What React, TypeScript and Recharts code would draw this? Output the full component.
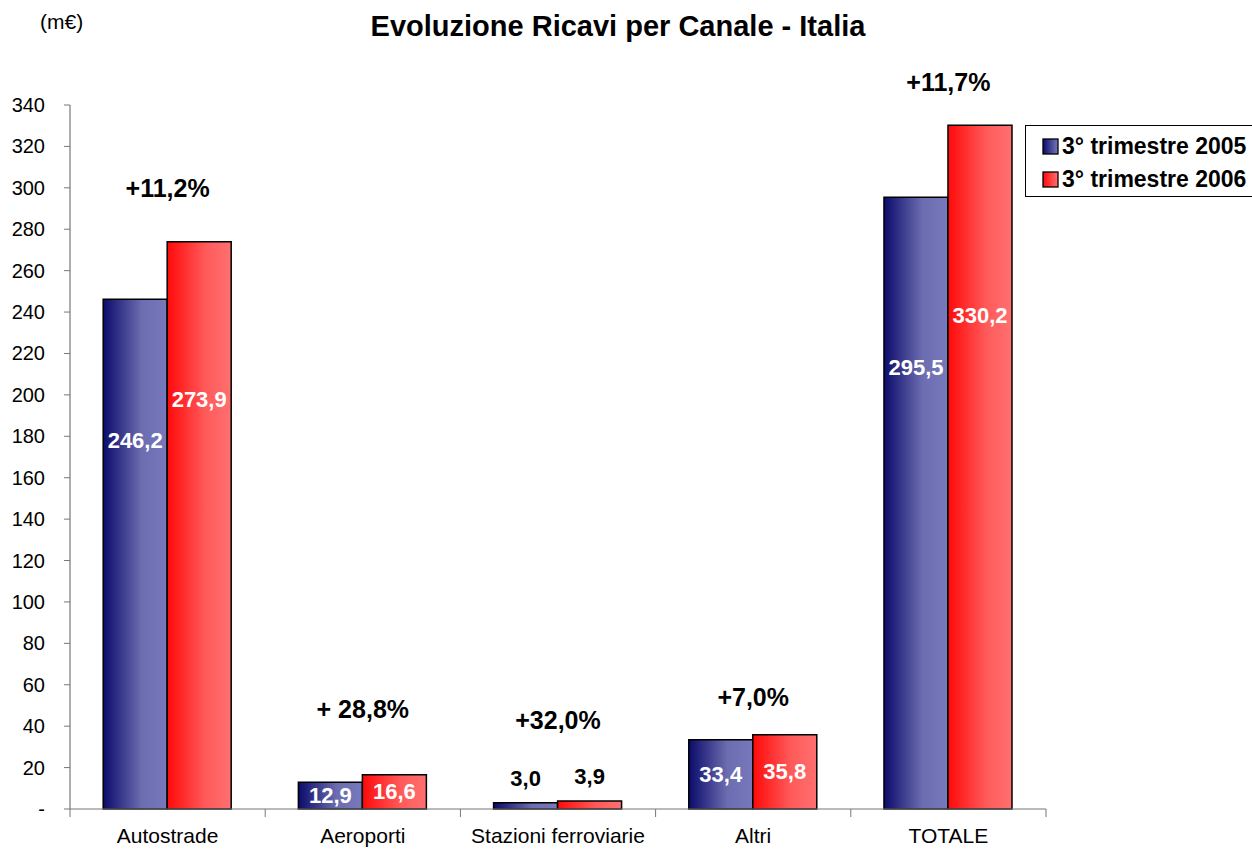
import React from 'react';
import { ComposedChart, Bar, XAxis, YAxis, LabelList, ReferenceDot } from 'recharts';

const categories = ['Autostrade', 'Aeroporti', 'Stazioni ferroviarie', 'Altri', 'TOTALE'];
const q3_2005 = [246.2, 12.9, 3.0, 33.4, 295.5];
const q3_2006 = [273.9, 16.6, 3.9, 35.8, 330.2];
const growthLabels = ['+11,2%', '+ 28,8%', '+32,0%', '+7,0%', '+11,7%'];
const growthLabelLevel = [300, 48, 43, 54, 351];
const yTicks = [0, 20, 40, 60, 80, 100, 120, 140, 160, 180, 200, 220, 240, 260, 280, 300, 320, 340];
const seriesNames = ['3° trimestre 2005', '3° trimestre 2006'];

const data = categories.map((c, i) => ({ name: c, a: q3_2005[i], b: q3_2006[i] }));

const FONT = '"Liberation Sans", Arial, Helvetica, sans-serif';
const AXIS = '#777';

const fmt = (v: number) => v.toFixed(1).replace('.', ',');

const ValueLabel = (props: any) => {
  const { x, y, width, height, value } = props;
  const cx = x + width / 2;
  const bottom = y + height;
  let ly: number;
  let fill = '#fff';
  if (value > 100) ly = bottom - 0.722 * height;
  else if (value > 10) ly = y + height / 2;
  else {
    ly = y - 24;
    fill = '#000';
  }
  return (
    <text x={cx} y={ly} textAnchor="middle" dominantBaseline="central" fill={fill}
      fontFamily={FONT} fontWeight="bold" fontSize={22}>
      {fmt(value)}
    </text>
  );
};

const XTick = (props: any) => {
  const { x, y, payload, index } = props;
  const half = payload && payload.offset ? payload.offset : 97.6;
  return (
    <g>
      <line x1={x - half} y1={y - 8} x2={x - half} y2={y} stroke={AXIS} strokeWidth={1} />
      {index === categories.length - 1 && (
        <line x1={x + half} y1={y - 8} x2={x + half} y2={y} stroke={AXIS} strokeWidth={1} />
      )}
      <text x={x} y={y + 26} textAnchor="middle" fontFamily={FONT} fontSize={21} fill="#000">
        {payload.value}
      </text>
    </g>
  );
};

const YTick = (props: any) => {
  const { x, y, payload } = props;
  return (
    <text x={x - 17} y={y} textAnchor="end" dominantBaseline="central" fontFamily={FONT} fontSize={20} fill="#000">
      {payload.value === 0 ? '-' : payload.value}
    </text>
  );
};

const LegendBox = () => (
  <div style={{ position: 'absolute', left: 1025, top: 125, border: '1px solid #000', borderRight: 'none', background: '#fff', width: 227, height: 72, boxSizing: 'border-box', padding: '4px 0 0 16px', fontFamily: FONT }}>
    {seriesNames.map((n, i) => (
      <div key={n} style={{ display: 'flex', alignItems: 'center', height: 33 }}>
        <svg width={17} height={17} style={{ marginRight: 3 }}>
          <rect x={1} y={1} width={15} height={15} fill={i === 0 ? 'url(#gBlueL)' : 'url(#gRedL)'} stroke="#000" strokeWidth={1.3} />
        </svg>
        <span style={{ fontWeight: 'bold', fontSize: 23, color: '#000', whiteSpace: 'nowrap' }}>{n}</span>
      </div>
    ))}
  </div>
);

export default function App() {
  return (
    <div style={{ position: 'absolute', left: 0, top: 0, width: 1252, height: 850, background: '#fff', overflow: 'hidden' }}>
      <div style={{ position: 'absolute', left: 40, top: 10, fontFamily: FONT, fontSize: 21 }}>(m€)</div>
      <div style={{ position: 'absolute', left: 0, width: 1236, top: 10, textAlign: 'center', fontFamily: FONT, fontSize: 29, fontWeight: 'bold' }}>
        Evoluzione Ricavi per Canale - Italia
      </div>
      <ComposedChart width={1252} height={850} data={data}
        margin={{ top: 105, right: 206, bottom: 0, left: 0 }} barCategoryGap="17%" barGap={0}>
        <defs>
          <linearGradient id="gBlue" x1="0" y1="0" x2="1" y2="0">
            <stop offset="0%" stopColor="#0B0B6B" />
            <stop offset="60%" stopColor="#6C6CB0" />
            <stop offset="100%" stopColor="#7878BC" />
          </linearGradient>
          <linearGradient id="gRed" x1="0" y1="0" x2="1" y2="0">
            <stop offset="0%" stopColor="#FF0A0A" />
            <stop offset="60%" stopColor="#FF5A5A" />
            <stop offset="100%" stopColor="#FF7070" />
          </linearGradient>
          <linearGradient id="gBlueL" x1="0" y1="0" x2="1" y2="0">
            <stop offset="0%" stopColor="#0B0B6B" />
            <stop offset="100%" stopColor="#7878BC" />
          </linearGradient>
          <linearGradient id="gRedL" x1="0" y1="0" x2="1" y2="0">
            <stop offset="0%" stopColor="#FF0A0A" />
            <stop offset="100%" stopColor="#FF7070" />
          </linearGradient>
        </defs>
        <XAxis dataKey="name" height={41} tickLine={false} axisLine={{ stroke: AXIS, strokeWidth: 1.2 }}
          tick={<XTick />} interval={0} />
        <YAxis width={70} domain={[0, 340]} ticks={yTicks} interval={0}
          axisLine={{ stroke: AXIS, strokeWidth: 1.2 }} tickLine={{ stroke: AXIS }} tickSize={6}
          tick={<YTick />} />
        <Bar dataKey="a" name={seriesNames[0]} fill="url(#gBlue)" stroke="#000" strokeWidth={1.5} isAnimationActive={false}>
          <LabelList dataKey="a" content={<ValueLabel />} />
        </Bar>
        <Bar dataKey="b" name={seriesNames[1]} fill="url(#gRed)" stroke="#000" strokeWidth={1.5} isAnimationActive={false}>
          <LabelList dataKey="b" content={<ValueLabel />} />
        </Bar>
        {categories.map((c, i) => (
          <ReferenceDot key={c} x={c} y={growthLabelLevel[i]} r={0} fill="none" stroke="none" ifOverflow="visible"
            label={{ value: growthLabels[i], position: 'center', fill: '#000', fontSize: 25, fontWeight: 'bold', fontFamily: FONT }} />
        ))}
      </ComposedChart>
      <LegendBox />
    </div>
  );
}
